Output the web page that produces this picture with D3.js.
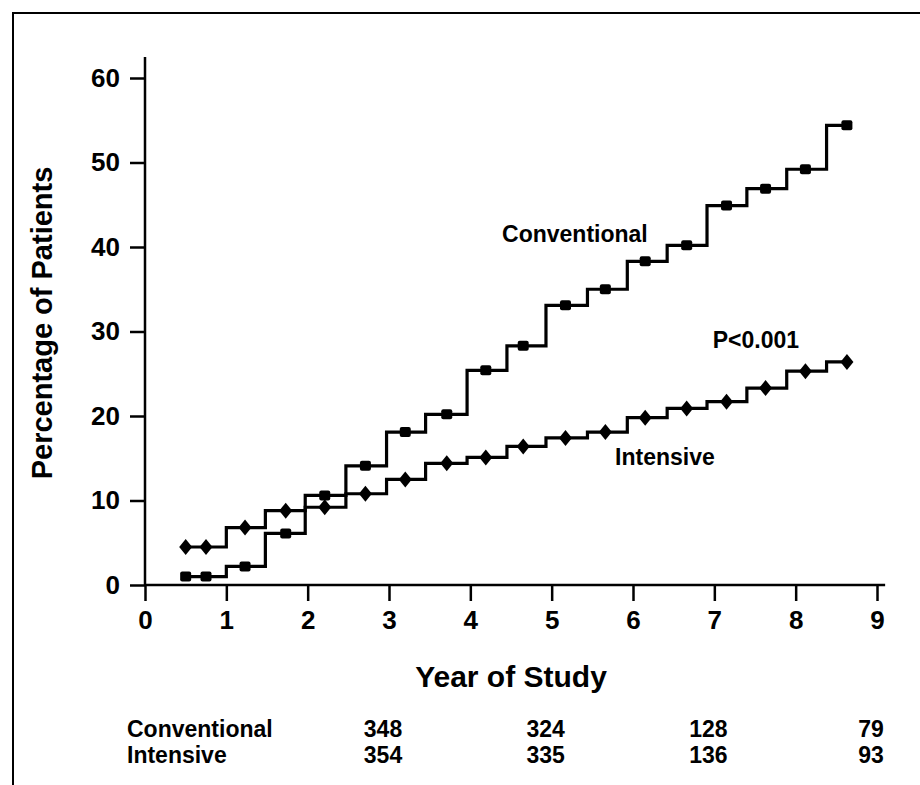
<!DOCTYPE html>
<html>
<head>
<meta charset="utf-8">
<script src="https://cdn.jsdelivr.net/npm/d3@7"></script>
<style>
  html, body { margin: 0; padding: 0; background: #fff; }
  svg { display: block; }
  text { font-family: "Liberation Sans", Arial, Helvetica, sans-serif; font-weight: bold; fill: #000; }
</style>
</head>
<body>
<svg id="chart" width="920" height="785"></svg>
<script>
// ---- Data ----
const stepYears = [0.5, 1.0, 1.48, 1.97, 2.47, 2.97, 3.45, 3.96, 4.45, 4.93, 5.44, 5.93, 6.42, 6.91, 7.40, 7.89, 8.38];
const endYear = 8.63;
const conventionalValues = [1.0, 2.2, 6.1, 10.6, 14.1, 18.1, 20.2, 25.4, 28.3, 33.1, 35.0, 38.3, 40.2, 44.9, 46.9, 49.2, 54.4];
const intensiveValues    = [4.5, 6.8, 8.8, 9.2, 10.8, 12.5, 14.4, 15.1, 16.4, 17.4, 18.1, 19.8, 20.9, 21.7, 23.3, 25.3, 26.4];
const markerYears = [0.5, 0.75, 1.23, 1.73, 2.21, 2.71, 3.2, 3.71, 4.19, 4.65, 5.17, 5.66, 6.15, 6.66, 7.15, 7.63, 8.12, 8.63];
const xTicks = [0, 1, 2, 3, 4, 5, 6, 7, 8, 9];
const yTicks = [0, 10, 20, 30, 40, 50, 60];
const atRiskYears = [3, 5, 7, 9];
const atRiskConventional = [348, 324, 128, 79];
const atRiskIntensive = [354, 335, 136, 93];
const seriesNames = ["Conventional", "Intensive"];

// ---- Setup ----
const svg = d3.select("#chart");
const x = d3.scaleLinear().domain([0, 9]).range([145, 877]);
const y = d3.scaleLinear().domain([0, 60]).range([585, 78]);

// frame (top and left)
svg.append("path")
  .attr("d", "M13,785 L13,13 L920,13")
  .attr("fill", "none").attr("stroke", "#000").attr("stroke-width", 2);

// axes
const yAxis = d3.axisLeft(y).tickValues(yTicks).tickSize(15).tickPadding(10).tickFormat(d3.format("d"));
const gy = svg.append("g").attr("transform", `translate(${x(0)},0)`).call(yAxis);
const xAxis = d3.axisBottom(x).tickValues(xTicks).tickSize(16).tickPadding(10).tickFormat(d3.format("d"));
const gx = svg.append("g").attr("transform", `translate(0,${y(0)})`).call(xAxis);
[gx, gy].forEach(g => {
  g.select(".domain").remove();
  g.selectAll(".tick line").attr("stroke", "#000").attr("stroke-width", 2.5);
  g.selectAll(".tick text").style("font-size", "26px").attr("fill", "#000");
});
svg.append("line").attr("x1", x(0)).attr("x2", x(0)).attr("y1", y(0)).attr("y2", y(62.5))
  .attr("stroke", "#000").attr("stroke-width", 2.5);
svg.append("line").attr("x1", x(0)).attr("x2", x(9.1)).attr("y1", y(0)).attr("y2", y(0))
  .attr("stroke", "#000").attr("stroke-width", 2.5);

// axis titles
svg.append("text")
  .attr("transform", `translate(52,323) rotate(-90)`)
  .attr("text-anchor", "middle")
  .style("font-size", "29px")
  .text("Percentage of Patients");
svg.append("text")
  .attr("x", 511).attr("y", 687)
  .attr("text-anchor", "middle")
  .style("font-size", "30px")
  .text("Year of Study");

// step lines
function stepPoints(values) {
  const pts = stepYears.map((t, i) => [t, values[i]]);
  pts.push([endYear, values[values.length - 1]]);
  return pts;
}
function valueAt(values, t) {
  let idx = d3.bisectRight(stepYears, t) - 1;
  if (idx < 0) idx = 0;
  return values[idx];
}
const line = d3.line().x(d => x(d[0])).y(d => y(d[1])).curve(d3.curveStepAfter);

[conventionalValues, intensiveValues].forEach(vals => {
  svg.append("path")
    .datum(stepPoints(vals))
    .attr("d", line)
    .attr("fill", "none")
    .attr("stroke", "#000")
    .attr("stroke-width", 3.2)
    .attr("stroke-linejoin", "miter");
});

// markers: squares for conventional, diamonds for intensive
svg.append("g").selectAll("rect")
  .data(markerYears)
  .join("rect")
  .attr("x", t => x(t) - 5.5)
  .attr("y", t => y(valueAt(conventionalValues, t)) - 5)
  .attr("width", 11).attr("height", 10)
  .attr("rx", 2)
  .attr("fill", "#000");

svg.append("g").selectAll("path")
  .data(markerYears)
  .join("path")
  .attr("d", t => {
    const cx = x(t), cy = y(valueAt(intensiveValues, t));
    return `M${cx},${cy - 8} L${cx + 6.5},${cy} L${cx},${cy + 8} L${cx - 6.5},${cy} Z`;
  })
  .attr("fill", "#000");

// annotations
svg.append("text").attr("x", x(4.39)).attr("y", y(40.6)).style("font-size", "23px").text(seriesNames[0]);
svg.append("text").attr("x", x(6.98)).attr("y", y(28.0)).style("font-size", "23px").text("P<0.001");
svg.append("text").attr("x", x(5.78)).attr("y", y(14.2)).style("font-size", "23px").text(seriesNames[1]);

// at-risk table
const rows = [
  { name: seriesNames[0], vals: atRiskConventional, yPos: 737 },
  { name: seriesNames[1], vals: atRiskIntensive, yPos: 763 }
];
rows.forEach(r => {
  svg.append("text").attr("x", 127).attr("y", r.yPos).style("font-size", "23px").text(r.name);
  svg.append("g").selectAll("text")
    .data(r.vals)
    .join("text")
    .attr("x", (d, i) => x(atRiskYears[i]) - 6)
    .attr("y", r.yPos)
    .attr("text-anchor", "middle")
    .style("font-size", "23px")
    .text(d => d);
});
</script>
</body>
</html>
